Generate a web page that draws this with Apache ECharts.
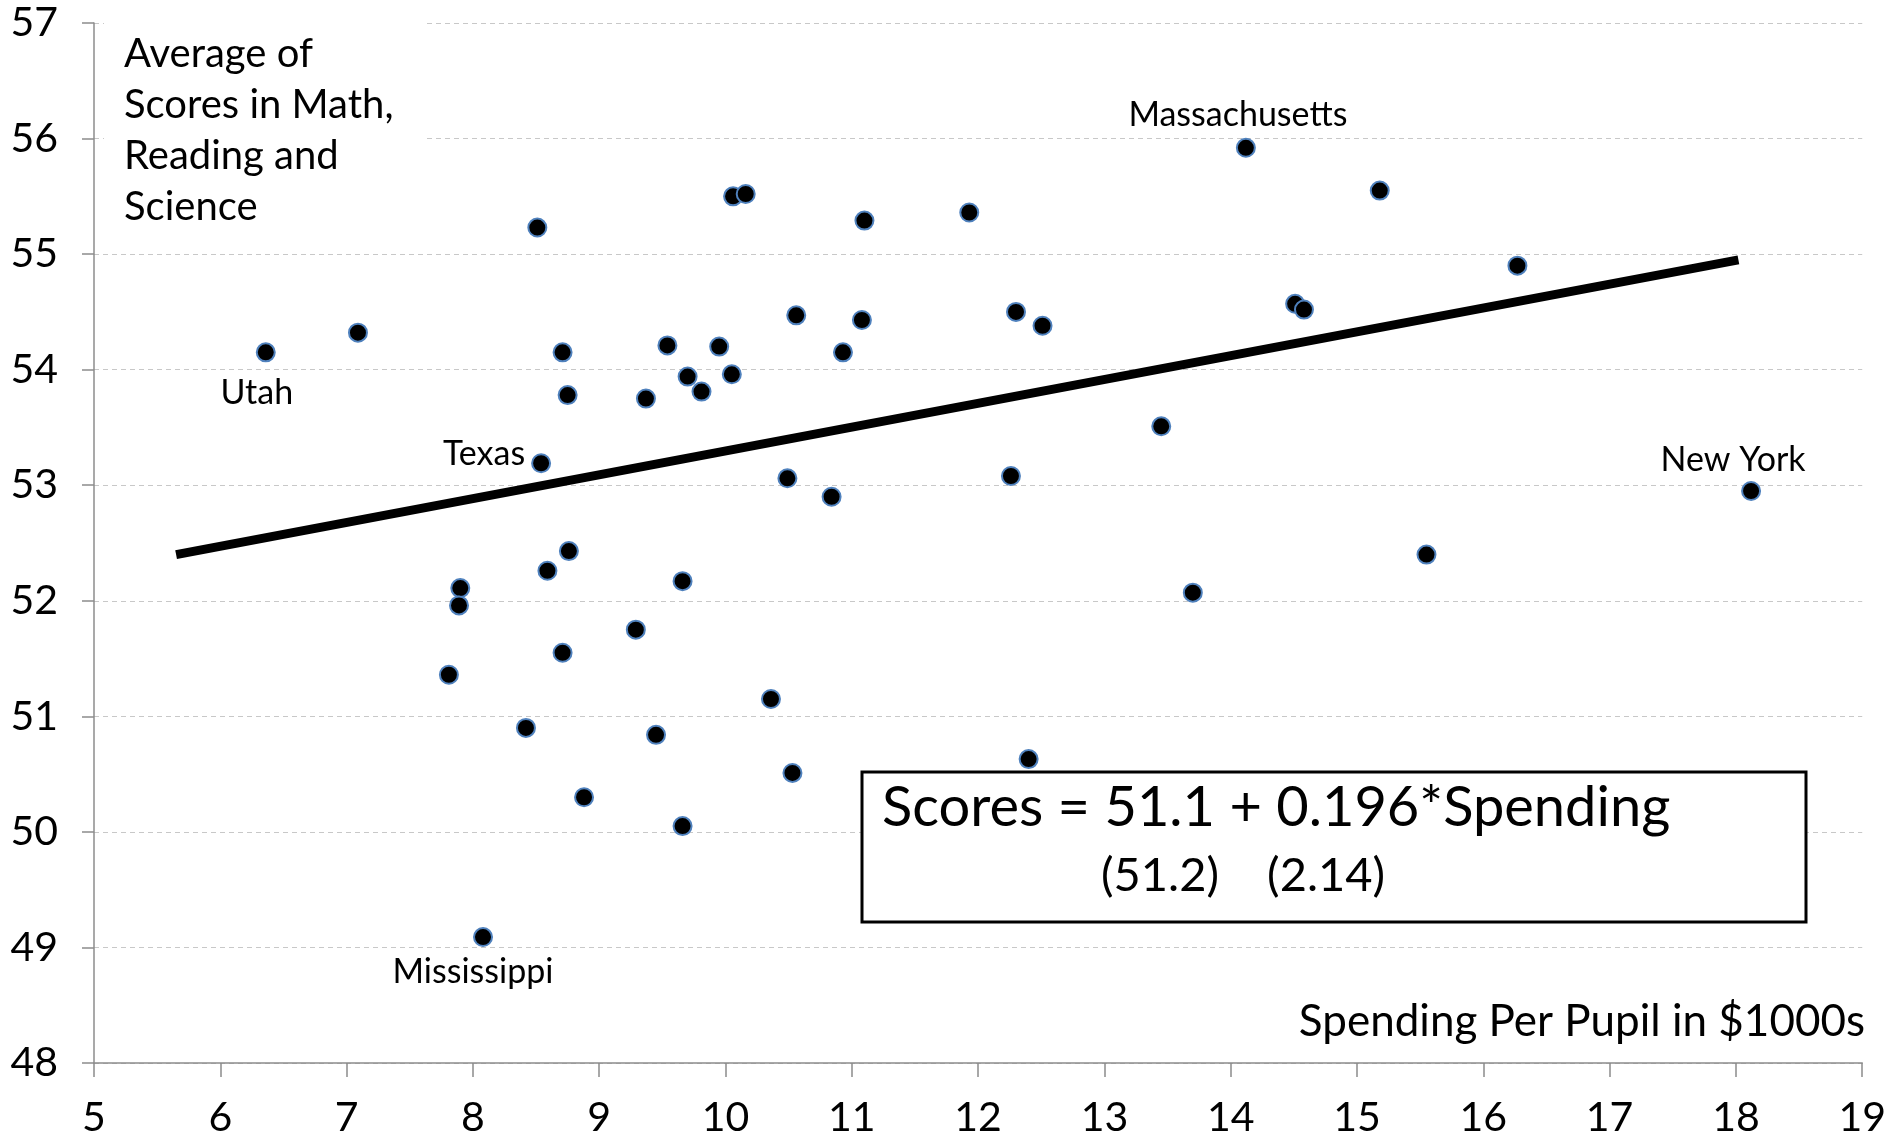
<!DOCTYPE html>
<html>
<head>
<meta charset="utf-8">
<script src="https://cdn.jsdelivr.net/npm/echarts@6/dist/echarts.min.js"></script>
<style>
html,body{margin:0;padding:0;background:#fff;}
#chart{width:1889px;height:1138px;}
</style>
</head>
<body>
<div id="chart"></div>
<script>
// Spending per pupil ($1000s)
const spending = [6.36, 7.09, 8.51, 8.54, 8.71, 8.75, 9.37, 9.54, 9.70, 9.81, 9.95, 10.05, 10.06, 10.16, 10.56, 10.93, 11.08, 11.10, 11.93, 12.30, 12.51, 10.49, 10.84, 12.26, 13.45, 14.12, 15.18, 14.51, 14.58, 16.27, 18.12, 15.55, 13.70, 8.76, 8.59, 7.90, 7.89, 7.81, 8.71, 9.29, 9.66, 8.42, 9.45, 10.36, 10.53, 8.88, 9.66, 12.40, 8.08];
// Average score
const scores = [54.15, 54.32, 55.23, 53.19, 54.15, 53.78, 53.75, 54.21, 53.94, 53.81, 54.20, 53.96, 55.50, 55.52, 54.47, 54.15, 54.43, 55.29, 55.36, 54.50, 54.38, 53.06, 52.90, 53.08, 53.51, 55.92, 55.55, 54.57, 54.52, 54.90, 52.95, 52.40, 52.07, 52.43, 52.26, 52.11, 51.96, 51.36, 51.55, 51.75, 52.17, 50.90, 50.84, 51.15, 50.51, 50.30, 50.05, 50.63, 49.09];
// State names for labelled points
const stateNames = ['Utah', '', '', 'Texas', '', '', '', '', '', '', '', '', '', '', '', '', '', '', '', '', '', '', '', '', '', 'Massachusetts', '', '', '', '', 'New York', '', '', '', '', '', '', '', '', '', '', '', '', '', '', '', '', '', 'Mississippi'];
// Fitted line endpoints as drawn
const fitX = [5.65, 18.02];
const fitY = [52.40, 54.95];
// Axis ticks
const xTicks = [5, 6, 7, 8, 9, 10, 11, 12, 13, 14, 15, 16, 17, 18, 19];
const yTicks = [48, 49, 50, 51, 52, 53, 54, 55, 56, 57];

const FONT = 'Lato';
const labelStyle = {
  'Utah': {position: 'bottom', offset: [-9, 9]},
  'Texas': {position: 'left', offset: [0, -9], distance: 6},
  'Massachusetts': {position: 'top', offset: [-8, -1]},
  'New York': {position: 'top', offset: [-18, 1]},
  'Mississippi': {position: 'bottom', offset: [-10, 3]}
};

const pts = spending.map((x, i) => {
  const item = {value: [x, scores[i]]};
  const nm = stateNames[i];
  if (nm) {
    item.label = Object.assign({show: true, formatter: nm, fontFamily: FONT, fontSize: 34, color: '#000'}, labelStyle[nm]);
  }
  return item;
});

const chart = echarts.init(document.getElementById('chart'), null, {renderer: 'canvas'});
chart.setOption({
  animation: false,
  backgroundColor: '#fff',
  grid: {left: 94, right: 24, top: 23, bottom: 73, containLabel: false},
  xAxis: {
    type: 'value', min: xTicks[0], max: xTicks[xTicks.length - 1], interval: 1,
    axisLine: {show: true, lineStyle: {color: '#8c8c8c', width: 1.5}},
    axisTick: {show: true, inside: false, length: 14, lineStyle: {color: '#8c8c8c', width: 1.5}},
    axisLabel: {fontFamily: FONT, fontSize: 41, color: '#000', margin: 34},
    splitLine: {show: false}
  },
  yAxis: {
    type: 'value', min: yTicks[0], max: yTicks[yTicks.length - 1], interval: 1,
    axisLine: {show: true, lineStyle: {color: '#8c8c8c', width: 1.5}},
    axisTick: {show: true, inside: false, length: 12, lineStyle: {color: '#8c8c8c', width: 1.5}},
    axisLabel: {fontFamily: FONT, fontSize: 41, color: '#000', margin: 36},
    splitLine: {show: true, lineStyle: {color: '#c8c8c8', width: 1, type: [5, 4]}}
  },
  series: [
    {
      type: 'line',
      data: fitX.map((x, i) => [x, fitY[i]]),
      symbol: 'none',
      lineStyle: {color: '#000', width: 9},
      z: 2
    },
    {
      type: 'scatter',
      data: pts,
      symbol: 'circle',
      symbolSize: 18,
      itemStyle: {color: '#000', borderColor: '#4f81bd', borderWidth: 2, opacity: 1},
      z: 3
    }
  ],
  graphic: [
    {type: 'rect', z: 50, shape: {x: 104, y: 12, width: 323, height: 220}, style: {fill: '#fff'}},
    {type: 'text', z: 51, left: 124, top: 29,
      style: {text: 'Average of\nScores in Math,\nReading and\nScience', font: '40px Lato', fill: '#000', lineHeight: 51}},
    {type: 'text', z: 51, right: 24, top: 1000,
      style: {text: 'Spending Per Pupil in $1000s', font: '44px Lato', fill: '#000', textAlign: 'right'}},
    {type: 'rect', z: 50, shape: {x: 862, y: 772, width: 944, height: 150}, style: {fill: '#fff', stroke: '#000', lineWidth: 3}},
    {type: 'text', z: 51, left: 882, top: 780,
      style: {text: 'Scores = 51.1 + 0.196*Spending', font: '56px Lato', fill: '#000'}},
    {type: 'text', z: 51, left: 1101, top: 852,
      style: {text: '(51.2)    (2.14)', font: '47px Lato', fill: '#000'}}
  ]
});
</script>
</body>
</html>
